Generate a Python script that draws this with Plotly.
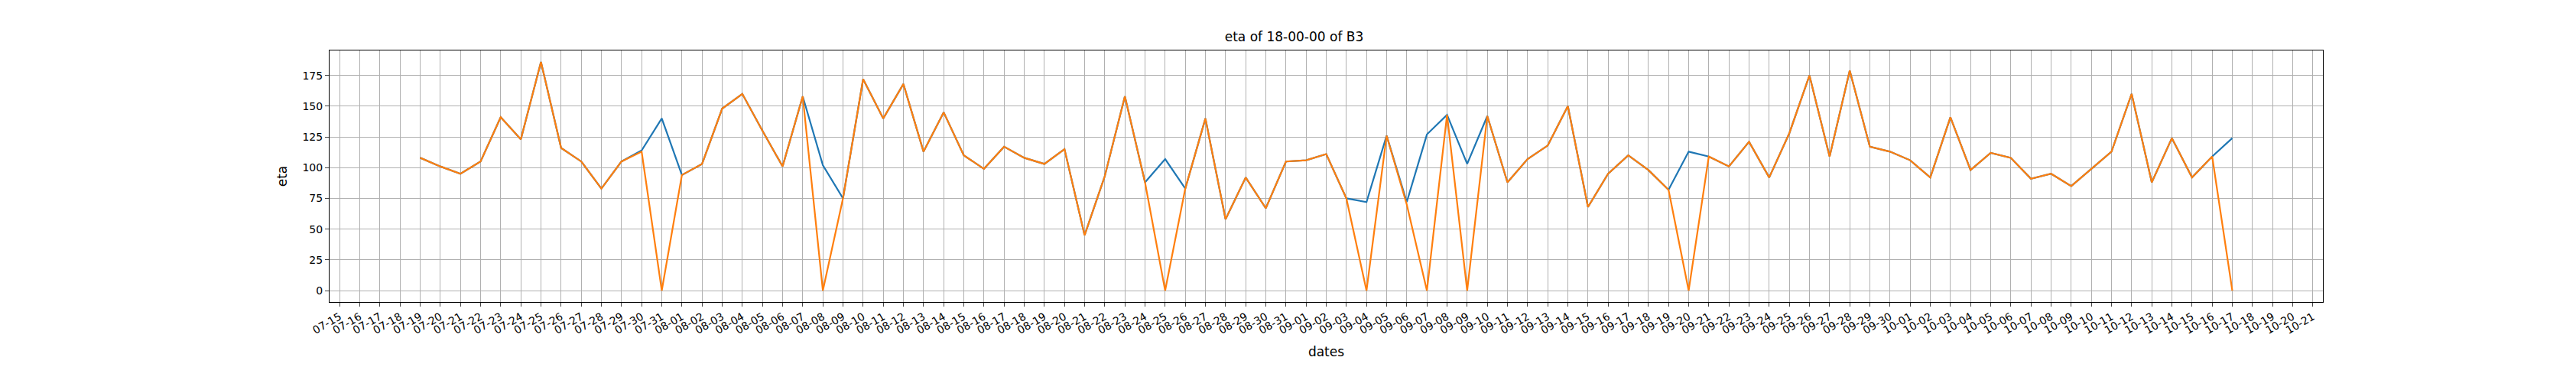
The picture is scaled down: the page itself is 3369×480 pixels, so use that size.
import plotly.graph_objects as go
import pandas as pd

dates = pd.date_range("2023-07-19", "2023-10-17", freq="D")
orange = [108,101,95,105,141,123,186,116,105,83,105,113,0,94,103,148,160,130,101,158,0,75,172,140,168,113,145,110,99,117,108,103,115,45,93,158,88,0,83,140,58,92,67,105,106,111,75,0,126,70,0,143,0,142,88,107,118,150,68,95,110,98,82,0,109,101,121,92,128,175,109,179,117,113,106,92,141,98,112,108,91,95,85,99,113,160,88,124,92,109,0]
blue = [108,101,95,105,141,123,186,116,105,83,105,114,140,94,103,148,160,130,101,158,102,75,172,140,168,113,145,110,99,117,108,103,115,45,93,158,88,107,83,140,58,92,67,105,106,111,75,72,126,72,127,143,103,142,88,107,118,150,68,95,110,98,82,113,109,101,121,92,128,175,109,179,117,113,106,92,141,98,112,108,91,95,85,99,113,160,88,124,92,109,124]
ticks = pd.date_range("2023-07-15", "2023-10-21", freq="D")
tick_labels = [d.strftime("%m-%d") for d in ticks]

fig = go.Figure()
fig.add_trace(go.Scatter(x=dates, y=blue, mode="lines", line=dict(color="#1f77b4", width=2.2)))
fig.add_trace(go.Scatter(x=dates, y=orange, mode="lines", line=dict(color="#ff7f0e", width=2.2)))
fig.update_layout(
    width=3369, height=480, showlegend=False, plot_bgcolor="white", paper_bgcolor="white",
    margin=dict(l=423, r=339, t=58, b=93, autoexpand=False),
    font=dict(family="DejaVu Sans", size=14, color="black"),
    title=dict(text="eta of 18-00-00 of B3", x=0.5, xanchor="center", y=0.93, font=dict(size=17)),
)
fig.update_xaxes(range=[pd.Timestamp("2023-07-14 12:00"), pd.Timestamp("2023-10-21 12:00")],
                 tickvals=ticks, ticktext=tick_labels, tickangle=-30, showgrid=True, gridcolor="#b0b0b0",
                 showline=True, linecolor="black", mirror=True, ticks="outside", title_text="dates",
                 automargin=False)
fig.update_yaxes(range=[-9.3, 195.3], tickvals=list(range(0, 176, 25)), showgrid=True, gridcolor="#b0b0b0",
                 showline=True, linecolor="black", mirror=True, ticks="outside", title_text="eta", zeroline=False,
                 automargin=False)
fig.write_html("out.html")
